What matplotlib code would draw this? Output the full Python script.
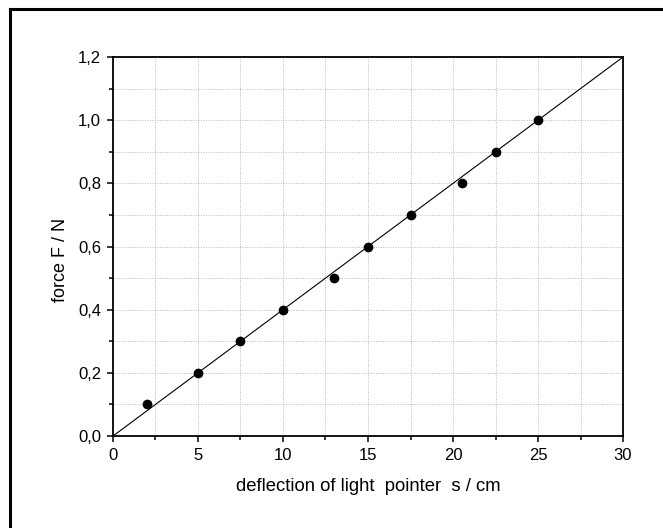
import matplotlib
matplotlib.use("Agg")
import matplotlib.pyplot as plt
from matplotlib.ticker import MultipleLocator, FuncFormatter
from matplotlib.lines import Line2D

plt.rcParams["font.family"] = ["Liberation Sans", "DejaVu Sans"]

# measured points
s_cm = [2, 5, 7.5, 10, 13, 15, 17.5, 20.5, 22.5, 25]
force_N = [0.1, 0.2, 0.3, 0.4, 0.5, 0.6, 0.7, 0.8, 0.9, 1.0]
# fitted line end points
fit_s = [0, 30]
fit_F = [0, 1.2]

fig = plt.figure(figsize=(6.63, 5.28), dpi=100)
ax = fig.add_axes([0.1704, 0.1742, 0.7693, 0.7178])

ax.plot(fit_s, fit_F, color="black", lw=0.8, zorder=3)
ax.plot(s_cm, force_N, "o", color="black", ms=6, zorder=4)

ax.set_xlim(0, 30)
ax.set_ylim(0, 1.2)
ax.xaxis.set_major_locator(MultipleLocator(5))
ax.xaxis.set_minor_locator(MultipleLocator(2.5))
ax.yaxis.set_major_locator(MultipleLocator(0.2))
ax.yaxis.set_minor_locator(MultipleLocator(0.1))
ax.yaxis.set_major_formatter(FuncFormatter(lambda v, p: f"{v:.1f}".replace(".", ",")))
ax.grid(which="both", color="#b8b8b8", ls=(0, (1, 1.5)), lw=0.7)
ax.tick_params(which="major", direction="out", length=4.5, width=1.1, labelsize=12, pad=4)
ax.tick_params(which="minor", direction="out", length=3, width=1.1)
for sp in ax.spines.values():
    sp.set_linewidth(1.3)

ax.set_xlabel("deflection of light  pointer  s / cm", fontsize=13.3, labelpad=11)
ax.set_ylabel("force F / N", fontsize=13, labelpad=5)
ax.yaxis.set_label_coords(-0.086, 0.464)

# outer frame (left and top edges visible)
fig.add_artist(Line2D([0.0158, 0.0158], [0.0, 0.983], transform=fig.transFigure, color="black", lw=2.2))
fig.add_artist(Line2D([0.0158, 1.0], [0.983, 0.983], transform=fig.transFigure, color="black", lw=2.2))

fig.savefig("out.png", dpi=100)
